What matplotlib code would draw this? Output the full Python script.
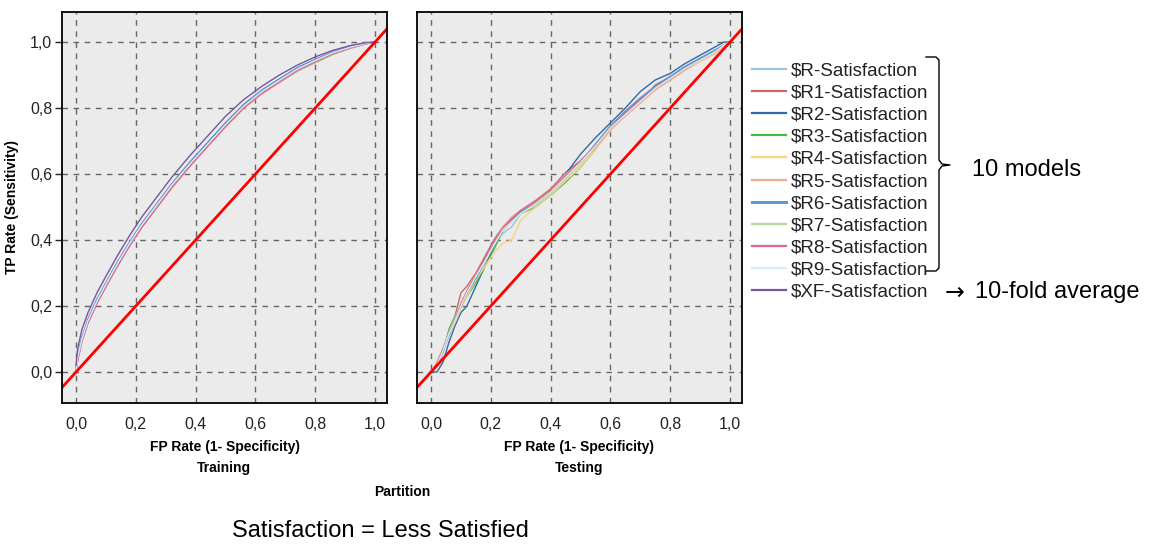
import matplotlib
matplotlib.use("Agg")
import matplotlib.pyplot as plt
from matplotlib.lines import Line2D
from matplotlib.ticker import FixedLocator, FuncFormatter

plt.rcParams['font.family'] = ['Liberation Sans', 'DejaVu Sans']

# ---- data ----
series_names = ["$R-Satisfaction", "$R1-Satisfaction", "$R2-Satisfaction", "$R3-Satisfaction",
                "$R4-Satisfaction", "$R5-Satisfaction", "$R6-Satisfaction", "$R7-Satisfaction",
                "$R8-Satisfaction", "$R9-Satisfaction", "$XF-Satisfaction"]
series_colors = ["#9cc3e0", "#c96a6a", "#2e6aa6", "#4fb84a", "#fdd07e", "#f4a892",
                 "#5b9ad8", "#b9da9c", "#e0668a", "#d6eafa", "#7b559f"]

train_fpr = [0, 0.005, 0.02, 0.04, 0.07, 0.1, 0.14, 0.18, 0.22, 0.27, 0.32, 0.38,
             0.44, 0.5, 0.56, 0.62, 0.68, 0.74, 0.8, 0.86, 0.92, 0.97, 1.0]
train_tpr = {
    "$R-Satisfaction":   [0.0, 0.04, 0.10, 0.155, 0.215, 0.265, 0.33, 0.39, 0.445, 0.505, 0.565, 0.63,
                          0.69, 0.75, 0.805, 0.85, 0.885, 0.92, 0.945, 0.97, 0.985, 0.996, 1.0],
    "$R1-Satisfaction":  [0.0, 0.035, 0.095, 0.15, 0.21, 0.26, 0.325, 0.385, 0.44, 0.50, 0.56, 0.625,
                          0.685, 0.745, 0.80, 0.845, 0.88, 0.915, 0.94, 0.965, 0.983, 0.995, 1.0],
    "$R2-Satisfaction":  [0.0, 0.045, 0.105, 0.16, 0.22, 0.27, 0.335, 0.395, 0.45, 0.51, 0.57, 0.635,
                          0.695, 0.755, 0.81, 0.853, 0.888, 0.922, 0.947, 0.97, 0.986, 0.996, 1.0],
    "$R3-Satisfaction":  [0.0, 0.04, 0.10, 0.15, 0.21, 0.262, 0.325, 0.387, 0.442, 0.50, 0.56, 0.625,
                          0.685, 0.745, 0.80, 0.843, 0.878, 0.912, 0.938, 0.963, 0.982, 0.995, 1.0],
    "$R4-Satisfaction":  [0.0, 0.038, 0.098, 0.152, 0.212, 0.263, 0.328, 0.39, 0.445, 0.503, 0.563, 0.628,
                          0.688, 0.748, 0.802, 0.846, 0.882, 0.917, 0.942, 0.967, 0.984, 0.996, 1.0],
    "$R5-Satisfaction":  [0.0, 0.036, 0.095, 0.15, 0.21, 0.26, 0.326, 0.386, 0.44, 0.50, 0.558, 0.622,
                          0.683, 0.742, 0.798, 0.842, 0.877, 0.912, 0.939, 0.964, 0.982, 0.995, 1.0],
    "$R6-Satisfaction":  [0.0, 0.042, 0.102, 0.157, 0.217, 0.268, 0.333, 0.393, 0.447, 0.507, 0.567, 0.632,
                          0.692, 0.752, 0.807, 0.851, 0.886, 0.92, 0.946, 0.969, 0.985, 0.996, 1.0],
    "$R7-Satisfaction":  [0.0, 0.04, 0.099, 0.153, 0.213, 0.264, 0.329, 0.389, 0.443, 0.503, 0.562, 0.627,
                          0.687, 0.747, 0.802, 0.846, 0.881, 0.915, 0.94, 0.965, 0.983, 0.995, 1.0],
    "$R8-Satisfaction":  [0.0, 0.034, 0.094, 0.148, 0.208, 0.258, 0.323, 0.383, 0.438, 0.498, 0.558, 0.623,
                          0.684, 0.744, 0.80, 0.844, 0.879, 0.914, 0.94, 0.965, 0.983, 0.995, 1.0],
    "$R9-Satisfaction":  [0.0, 0.042, 0.1, 0.155, 0.215, 0.266, 0.331, 0.391, 0.446, 0.506, 0.566, 0.63,
                          0.69, 0.75, 0.805, 0.849, 0.884, 0.918, 0.944, 0.968, 0.985, 0.996, 1.0],
    "$XF-Satisfaction":  [0.02, 0.07, 0.13, 0.18, 0.24, 0.29, 0.355, 0.415, 0.47, 0.53, 0.59, 0.655,
                          0.715, 0.775, 0.825, 0.865, 0.90, 0.93, 0.955, 0.975, 0.99, 0.998, 1.0],
}

test_fpr = [0, 0.02, 0.04, 0.06, 0.08, 0.1, 0.12, 0.15, 0.18, 0.21, 0.24, 0.27, 0.3, 0.35,
            0.4, 0.45, 0.5, 0.55, 0.6, 0.65, 0.7, 0.75, 0.8, 0.85, 0.9, 0.95, 0.98, 1.0]
test_tpr = {
    "$R-Satisfaction":  [0.0, 0.02, 0.07, 0.12, 0.16, 0.20, 0.24, 0.29, 0.34, 0.39, 0.42, 0.44, 0.48, 0.51,
                         0.545, 0.59, 0.635, 0.69, 0.745, 0.785, 0.825, 0.86, 0.89, 0.92, 0.945, 0.965, 0.985, 1.0],
    "$R1-Satisfaction": [0.0, 0.03, 0.07, 0.12, 0.17, 0.24, 0.26, 0.30, 0.35, 0.40, 0.44, 0.465, 0.49, 0.52,
                         0.555, 0.605, 0.64, 0.685, 0.74, 0.785, 0.82, 0.87, 0.895, 0.925, 0.95, 0.97, 0.99, 1.0],
    "$R2-Satisfaction": [0.0, 0.0, 0.03, 0.09, 0.14, 0.18, 0.20, 0.26, 0.32, 0.38, 0.43, 0.46, 0.48, 0.51,
                         0.55, 0.60, 0.66, 0.71, 0.755, 0.80, 0.85, 0.885, 0.905, 0.935, 0.96, 0.985, 1.0, 1.0],
    "$R3-Satisfaction": [0.0, 0.02, 0.06, 0.13, 0.17, 0.20, 0.23, 0.27, 0.32, 0.37, 0.43, 0.46, 0.48, 0.50,
                         0.535, 0.575, 0.62, 0.675, 0.745, 0.785, 0.825, 0.865, 0.895, 0.925, 0.95, 0.975, 0.99, 1.0],
    "$R4-Satisfaction": [0.0, 0.03, 0.07, 0.11, 0.15, 0.19, 0.23, 0.28, 0.32, 0.36, 0.39, 0.40, 0.46, 0.50,
                         0.535, 0.58, 0.62, 0.675, 0.73, 0.78, 0.82, 0.855, 0.885, 0.915, 0.94, 0.965, 0.985, 1.0],
    "$R5-Satisfaction": [0.0, 0.025, 0.065, 0.11, 0.16, 0.21, 0.245, 0.295, 0.34, 0.39, 0.44, 0.47, 0.49, 0.515,
                         0.55, 0.60, 0.635, 0.68, 0.735, 0.775, 0.815, 0.855, 0.885, 0.915, 0.945, 0.97, 0.99, 1.0],
    "$R6-Satisfaction": [0.0, 0.02, 0.065, 0.115, 0.16, 0.20, 0.24, 0.285, 0.335, 0.385, 0.43, 0.46, 0.485, 0.51,
                         0.545, 0.59, 0.635, 0.69, 0.745, 0.79, 0.83, 0.865, 0.895, 0.925, 0.95, 0.975, 0.99, 1.0],
    "$R7-Satisfaction": [0.0, 0.025, 0.07, 0.12, 0.165, 0.205, 0.245, 0.29, 0.335, 0.385, 0.43, 0.455, 0.48, 0.505,
                         0.54, 0.585, 0.63, 0.685, 0.74, 0.78, 0.82, 0.86, 0.89, 0.92, 0.945, 0.97, 0.99, 1.0],
    "$R8-Satisfaction": [0.0, 0.025, 0.07, 0.115, 0.16, 0.205, 0.245, 0.295, 0.345, 0.395, 0.435, 0.465, 0.49, 0.515,
                         0.55, 0.595, 0.64, 0.685, 0.74, 0.785, 0.825, 0.86, 0.89, 0.92, 0.945, 0.97, 0.99, 1.0],
    "$R9-Satisfaction": [0.0, 0.02, 0.065, 0.115, 0.155, 0.2, 0.24, 0.29, 0.335, 0.385, 0.43, 0.455, 0.48, 0.51,
                         0.545, 0.59, 0.635, 0.685, 0.74, 0.78, 0.82, 0.86, 0.89, 0.92, 0.945, 0.97, 0.99, 1.0],
}

diag = [-0.05, 1.05]
ticks = [0.0, 0.2, 0.4, 0.6, 0.8, 1.0]

W, H = 1157, 548


def fx(px):
    return px / W


def fy(py):
    return 1 - py / H


fig = plt.figure(figsize=(W / 100, H / 100), dpi=100)
ax_train = fig.add_axes([fx(62), fy(403), fx(387) - fx(62), fy(12) - fy(403)])
ax_test = fig.add_axes([fx(417), fy(403), fx(742) - fx(417), fy(12) - fy(403)])

comma = FuncFormatter(lambda v, p: ("%.1f" % v).replace(".", ","))

for ax in (ax_train, ax_test):
    ax.set_facecolor("#ebebeb")
    ax.set_xlim(-0.047, 1.04)
    ax.set_ylim(-0.094, 1.091)
    ax.xaxis.set_major_locator(FixedLocator(ticks))
    ax.yaxis.set_major_locator(FixedLocator(ticks))
    ax.xaxis.set_major_formatter(comma)
    ax.yaxis.set_major_formatter(comma)
    ax.grid(True, color="#666666", linestyle=(0, (4, 4)), linewidth=1.0)
    ax.set_axisbelow(True)
    for s in ax.spines.values():
        s.set_color("black")
        s.set_linewidth(1.3)
    ax.tick_params(axis="x", length=0, pad=10, labelsize=11.5, colors="#222222")
    ax.tick_params(axis="y", length=5, width=1, pad=2, labelsize=11.5, colors="#222222")
    ax.set_xlabel("FP Rate (1- Specificity)", fontsize=10, fontweight="bold", labelpad=6)

ax_test.tick_params(axis="y", length=0, labelleft=False)

# training curves
for name, color in zip(series_names, series_colors):
    lw = 1.4 if name == "$R6-Satisfaction" else 1.0
    ax_train.plot(train_fpr, train_tpr[name], color=color, linewidth=lw)
ax_train.plot(diag, diag, color="#ff0000", linewidth=2.0)

# testing curves
for name, color in zip(series_names[:-1], series_colors[:-1]):
    lw = 1.4 if name == "$R6-Satisfaction" else 1.0
    ax_test.plot(test_fpr, test_tpr[name], color=color, linewidth=lw)
ax_test.plot(diag, diag, color="#ff0000", linewidth=2.0)

ax_train.set_ylabel("TP Rate (Sensitivity)", fontsize=10, fontweight="bold", labelpad=8)

fig.text(fx(224), fy(468), "Training", fontsize=10, fontweight="bold", ha="center", va="center")
fig.text(fx(579), fy(468), "Testing", fontsize=10, fontweight="bold", ha="center", va="center")
fig.text(fx(402), fy(492), "Partition", fontsize=10, fontweight="bold", ha="center", va="center")
fig.text(fx(380), fy(531), "Satisfaction = Less Satisfied", fontsize=17, ha="center", va="center")

# legend
handles = [Line2D([0], [0], color=c, linewidth=(2.2 if n == "$R6-Satisfaction" else 1.6))
           for n, c in zip(series_names, series_colors)]
labels = [n.replace("$", r"\$") for n in series_names]
fig.legend(handles, labels, loc="upper left", bbox_to_anchor=(fx(752), fy(62)),
           frameon=False, fontsize=13.5, handlelength=1.8, handletextpad=0.25,
           labelspacing=0.27, borderpad=0, borderaxespad=0, labelcolor="#222222")

# bracket for the 10 models
bx = [926, 936, 939, 939, 942, 950, 942, 939, 939, 936, 926]
by = [57, 57, 60, 160, 164, 165, 166, 170, 268, 271, 271]
fig.add_artist(Line2D([fx(x) for x in bx], [fy(y) for y in by], color="black", linewidth=1.0))
fig.text(fx(972), fy(170), "10 models", fontsize=17, ha="left", va="center")
fig.text(fx(945), fy(293), "\u2192", fontsize=17, ha="left", va="center", family="DejaVu Sans")
fig.text(fx(975), fy(292), "10-fold average", fontsize=17, ha="left", va="center")

fig.savefig("out.png", dpi=100)
